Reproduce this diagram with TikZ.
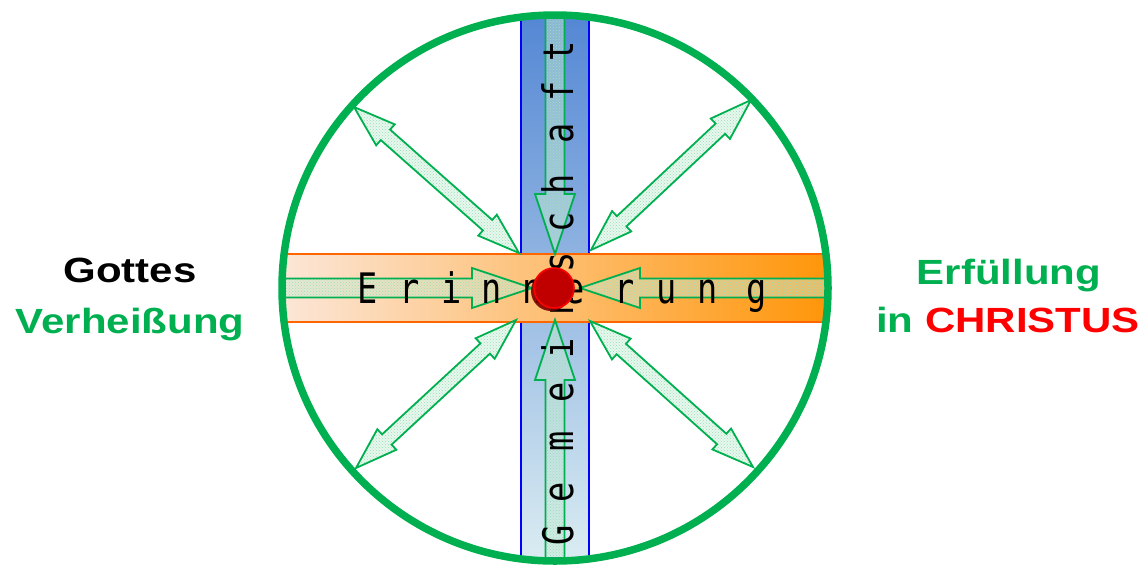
\documentclass[tikz,border=0pt]{standalone}
\usepackage{fontspec}
\setmainfont{Liberation Sans}
\newfontfamily\bandfont{DejaVu Sans Mono}
\usepackage{xcolor}
\usepackage{tikz}
\usetikzlibrary{calc, patterns, shadows}

\definecolor{ringgreen}{RGB}{0,176,80}
\definecolor{christred}{RGB}{255,0,0}
\definecolor{dotred}{RGB}{192,0,0}
\definecolor{shadowred}{RGB}{120,0,0}
\definecolor{bandline}{RGB}{255,102,0}
\definecolor{peach}{RGB}{252,230,215}
\definecolor{midpeach}{RGB}{250,204,168}
\definecolor{deeporange}{RGB}{255,150,10}
\definecolor{skytop}{RGB}{84,135,212}
\definecolor{skybottom}{RGB}{218,236,242}
\definecolor{arrowfill}{RGB}{205,238,215}

\newcommand{\onewayarrow}[2]{%
  \coordinate (hb) at ($(#2)!60pt!(#1)$);
  \draw[blockarrow] ($(#1)!9.5pt!90:(#2)$) -- ($(hb)!9.5pt!90:(#2)$) -- ($(hb)!20pt!90:(#2)$) -- (#2)
    -- ($(hb)!20pt!-90:(#2)$) -- ($(hb)!9.5pt!-90:(#2)$) -- ($(#1)!9.5pt!-90:(#2)$) -- cycle;}
\newcommand{\twowayarrow}[2]{%
  \coordinate (ha) at ($(#1)!42pt!(#2)$);
  \coordinate (hb) at ($(#2)!42pt!(#1)$);
  \draw[blockarrow] (#1) -- ($(ha)!14pt!90:(#2)$) -- ($(ha)!7pt!90:(#2)$) -- ($(hb)!7pt!90:(#2)$)
    -- ($(hb)!14pt!90:(#2)$) -- (#2) -- ($(hb)!14pt!-90:(#2)$) -- ($(hb)!7pt!-90:(#2)$)
    -- ($(ha)!7pt!-90:(#2)$) -- ($(ha)!14pt!-90:(#2)$) -- cycle;}

\begin{document}
\begin{tikzpicture}[
    x=1pt, y=-1pt,
    vband/.style={rectangle, inner sep=0, draw=blue, line width=1.8pt, top color=skytop, bottom color=skybottom},
    hband/.style={rectangle, inner sep=0, draw=bandline, line width=1.8pt, left color=peach, middle color=midpeach, right color=deeporange},
    blockarrow/.style={draw=ringgreen, line width=1.8pt, line join=miter, pattern=crosshatch dots, pattern color=ringgreen!40,
        preaction={fill=arrowfill, fill opacity=.45}},
    bandletter/.style={inner sep=0, font=\bandfont\fontsize{42}{48}\selectfont},
    ring/.style={draw=ringgreen, line width=7.5pt},
    reddot/.style={circle, minimum size=40pt, inner sep=0, fill=dotred, draw=christred, line width=1.6pt,
        drop shadow={shadow xshift=-3pt, shadow yshift=-3pt, fill=shadowred, opacity=.9}},
    sidelabel/.style={anchor=base, inner sep=0, font=\fontsize{35}{42}\selectfont\bfseries},
]
\useasboundingbox (0,0) rectangle (1146,566);

\coordinate (centre) at (555,288);
\node[vband, minimum width=68pt, minimum height=542pt] (gemeinschaft) at (555,287) {};
\node[hband, minimum width=542pt, minimum height=68pt] (erinnerung) at (555,288) {};

\coordinate (west) at (284,288);
\coordinate (east) at (826,288);
\coordinate (north) at (555,15);
\coordinate (south) at (555,561);
\coordinate (westtip) at (532,288);
\coordinate (easttip) at (580,288);
\coordinate (northtip) at (555,254);
\coordinate (southtip) at (555,320);
\onewayarrow{west}{westtip}
\onewayarrow{east}{easttip}
\onewayarrow{north}{northtip}
\onewayarrow{south}{southtip}

\coordinate (ul) at (354,107);
\coordinate (ur) at (751,100);
\coordinate (lr) at (753,467);
\coordinate (ll) at (356,468);
\coordinate (ulin) at (519,253);
\coordinate (urin) at (591,250);
\coordinate (lrin) at (590,321);
\coordinate (llin) at (516,320);
\twowayarrow{ul}{ulin}
\twowayarrow{ur}{urin}
\twowayarrow{lr}{lrin}
\twowayarrow{ll}{llin}

\foreach \xpos/\ch in {368/E,410/r,452/i,492/n,533/n,575/e,625/r,667/u,708/n,757/g}
    \node[bandletter, anchor=base] (er-\xpos) at (\xpos,303) {\scalebox{0.8}[1]{\ch}};
\foreach \ypos/\ch in {535/G,492/e,441/m,392/e,348/i,305/n,262/s,222/c,184/h,133/a,91/f,51/t}
    \node[bandletter, anchor=base, rotate=90] (ge-\ypos) at (573,\ypos) {\scalebox{0.8}[1]{\ch}};

\draw[ring] (centre) circle [radius=273pt];
\node[reddot] (kern) at (554,288) {};

\node[sidelabel] (gottes) at (130,282) {\scalebox{1.2}[1]{Gottes}};
\node[sidelabel, text=ringgreen] (verheissung) at (130,333) {\scalebox{1.2}[1]{Verheißung}};
\node[sidelabel, text=ringgreen] (erfuellung) at (1009,284) {\scalebox{1.2}[1]{Erfüllung}};
\node[sidelabel, text=ringgreen] (christus) at (1008,332) {\scalebox{1.2}[1]{in \textcolor{christred}{CHRISTUS}}};
\end{tikzpicture}
\end{document}
